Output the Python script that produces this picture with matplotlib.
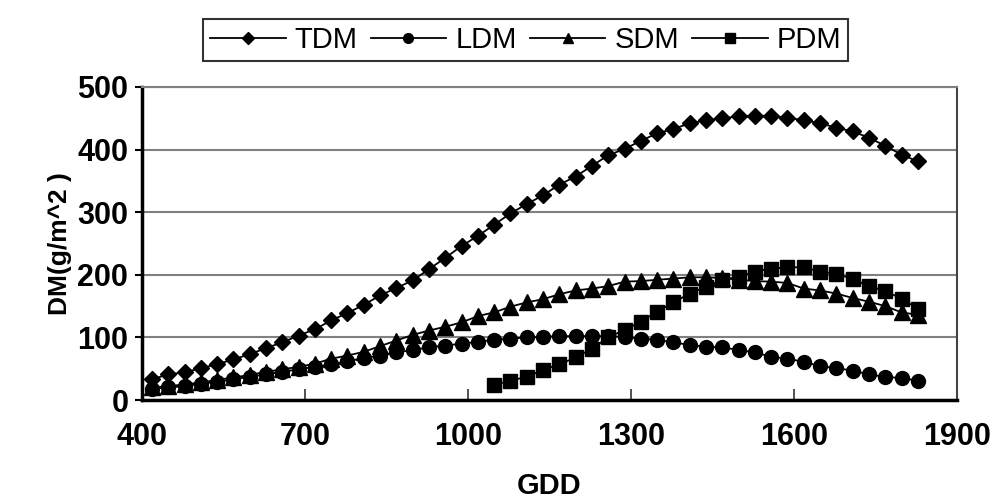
import matplotlib
matplotlib.use("Agg")
import matplotlib.pyplot as plt

plt.rcParams['font.family'] = ['Liberation Sans', 'DejaVu Sans']

GDD = [418, 448, 478, 508, 538, 568, 598, 628, 658, 688, 718, 748, 778, 808, 838, 868,
       898, 928, 958, 988, 1018, 1048, 1078, 1108, 1138, 1168, 1198, 1228, 1258, 1288,
       1318, 1348, 1378, 1408, 1438, 1468, 1498, 1528, 1558, 1588, 1618, 1648, 1678,
       1708, 1738, 1768, 1798, 1828]
TDM = [33, 41, 44, 51, 57, 65, 73, 83, 92, 103, 113, 127, 139, 152, 167, 179, 191, 209,
       227, 246, 262, 280, 298, 313, 327, 344, 357, 374, 391, 401, 414, 426, 433, 442,
       447, 450, 453, 454, 454, 451, 447, 442, 435, 429, 419, 406, 392, 381]
LDM = [18, 20, 22, 26, 29, 33, 37, 41, 45, 49, 53, 57, 62, 67, 71, 76, 80, 84, 87, 90,
       93, 96, 98, 100, 101, 102, 102, 102, 102, 101, 98, 96, 92, 88, 85, 84, 80, 76, 69,
       66, 61, 54, 51, 47, 41, 37, 35, 31]
SDM = [20, 22, 25, 28, 32, 36, 40, 45, 49, 53, 58, 66, 71, 77, 86, 95, 104, 111, 117,
       124, 134, 140, 149, 156, 161, 169, 175, 178, 182, 189, 190, 192, 194, 196, 196,
       195, 192, 190, 189, 187, 178, 175, 170, 163, 157, 150, 140, 136]
PDM_GDD = [1048, 1078, 1108, 1138, 1168, 1198, 1228, 1258, 1288, 1318, 1348, 1378, 1408,
           1438, 1468, 1498, 1528, 1558, 1588, 1618, 1648, 1678, 1708, 1738, 1768, 1798,
           1828]
PDM = [24, 31, 37, 48, 57, 68, 82, 100, 112, 125, 141, 156, 170, 181, 192, 197, 205, 210,
       212, 212, 205, 202, 193, 182, 174, 162, 146]

X_TICKS = [400, 700, 1000, 1300, 1600, 1900]
Y_TICKS = [0, 100, 200, 300, 400, 500]

fig = plt.figure(figsize=(10.01, 5.0), dpi=100)
ax = fig.add_axes([0.142, 0.2, 0.814, 0.626])

h1, = ax.plot(GDD, TDM, color='black', lw=1.3, marker='D', ms=8.5, label='TDM', zorder=3)
h2, = ax.plot(GDD, LDM, color='black', lw=1.3, marker='o', ms=10, label='LDM', zorder=3)
h3, = ax.plot(GDD, SDM, color='black', lw=1.3, marker='^', ms=11, label='SDM', zorder=3)
h4, = ax.plot(PDM_GDD, PDM, color='black', lw=1.3, marker='s', ms=9.5, label='PDM', zorder=3)

ax.set_xlim(400, 1900)
ax.set_ylim(0, 500)
ax.set_xticks(X_TICKS)
ax.set_yticks(Y_TICKS)
ax.set_xticklabels([str(v) for v in X_TICKS], fontsize=22, fontweight='bold')
ax.set_yticklabels([str(v) for v in Y_TICKS], fontsize=22, fontweight='bold')
ax.tick_params(axis='x', direction='in', length=8, width=1.2, pad=16, colors='#333333',
               labelcolor='black')
ax.tick_params(axis='y', direction='out', length=5, width=1.5, pad=5, labelcolor='black')

ax.yaxis.grid(True, color='#808080', lw=1.5)
ax.set_axisbelow(True)
ax.spines['left'].set_linewidth(2.5)
ax.spines['bottom'].set_linewidth(2.5)
ax.spines['right'].set_linewidth(1.5)
ax.spines['right'].set_color('#444444')
ax.spines['top'].set_linewidth(1.5)
ax.spines['top'].set_color('#808080')

ax.set_xlabel('GDD', fontsize=21, fontweight='bold', labelpad=14)
ax.set_ylabel('DM(g/m^2 )', fontsize=19, fontweight='bold', labelpad=4)

leg = fig.legend(handles=[h1, h2, h3, h4], loc='center', bbox_to_anchor=(0.525, 0.92),
                 ncol=4, fontsize=21, frameon=True, fancybox=False, handlelength=2.6,
                 handletextpad=0.3, columnspacing=0.45, borderpad=0.25, markerscale=0.7)
leg.get_frame().set_edgecolor('black')
leg.get_frame().set_linewidth(1.5)

fig.savefig('out.png', dpi=100)
